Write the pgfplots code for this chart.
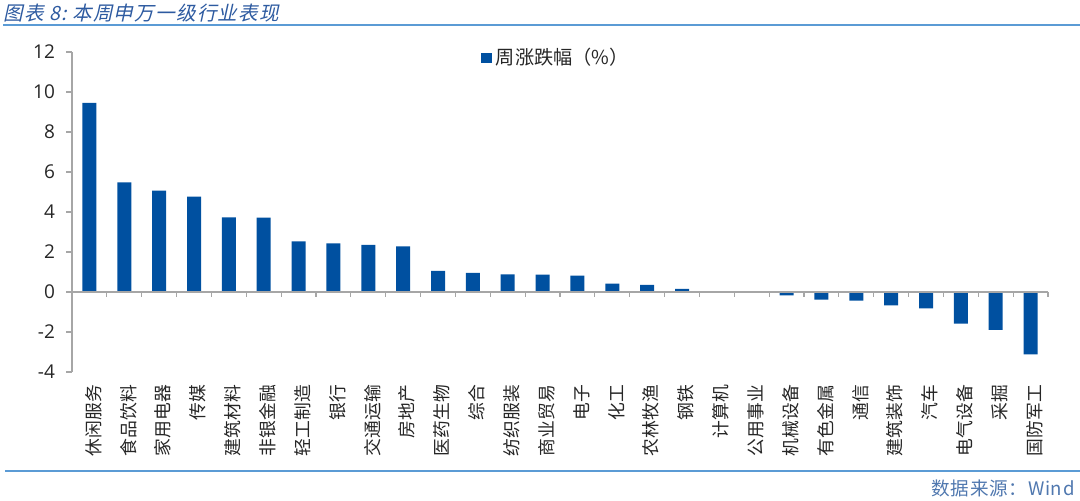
\documentclass[border=0pt]{standalone}
\usepackage{pgfplots}
\pgfplotsset{compat=1.18}
\usepackage{pgfplotstable}
\usepackage{fontspec}
\setmainfont{Open Sans}
\newfontfamily\cjk{Noto Sans CJK SC}
\newfontfamily\cjkslant[FakeSlant=0.22,LetterSpace=6]{Noto Sans CJK SC}
\newfontfamily\cjksrc[LetterSpace=4]{Noto Sans CJK SC}
\definecolor{barblue}{RGB}{0,80,160}
\definecolor{linebl}{RGB}{91,155,213}
\definecolor{titlebl}{RGB}{45,90,160}
\definecolor{srcbl}{RGB}{80,120,175}
\pgfplotstableread{
x y
0 9.45
1 5.48
2 5.07
3 4.77
4 3.73
5 3.72
6 2.53
7 2.43
8 2.35
9 2.28
10 1.05
11 0.95
12 0.88
13 0.87
14 0.82
15 0.42
16 0.35
17 0.15
18 0.03
19 0.01
20 -0.17
21 -0.38
22 -0.43
23 -0.67
24 -0.82
25 -1.58
26 -1.90
27 -3.12
}\datatab
\begin{document}
\begin{tikzpicture}
\path[use as bounding box] (0,0) rectangle (540pt,250.5pt);
\node[anchor=west, inner sep=0pt, text=titlebl, font=\cjkslant\fontsize{9.8}{11}\selectfont] at (1.5pt,244pt) {图表 8:\ 本周申万一级行业表现};
\draw[linebl, line width=1pt] (1.5pt,238pt) -- (540pt,238pt);
\draw[linebl, line width=1pt] (2.5pt,15pt) -- (540pt,15pt);
\node[anchor=east, inner sep=0pt, text=srcbl, font=\cjksrc\fontsize{9.3}{10}\selectfont] at (537.5pt,6.5pt) {数据来源：Wind};
\begin{axis}[
  at={(36pt,64.5pt)}, anchor=south west,
  scale only axis, width=488pt, height=160pt,
  ybar, bar width=7pt,
  xmin=-0.5, xmax=27.5, ymin=-4, ymax=12,
  axis y line*=left, axis x line*=bottom,
  x axis line style={draw=none},
  y axis line style={draw=black!35, line width=0.6pt},
  ytick={-4,-2,...,12},
  xtick={0,...,27},
  xticklabels={休闲服务,食品饮料,家用电器,传媒,建筑材料,非银金融,轻工制造,银行,交通运输,房地产,医药生物,综合,纺织服装,商业贸易,电子,化工,农林牧渔,钢铁,计算机,公用事业,机械设备,有色金属,通信,建筑装饰,汽车,电气设备,采掘,国防军工},
  xtick style={draw=none},
  ytick style={draw=black!35, line width=0.6pt},
  tick align=outside,
  major tick length=3pt,
  xticklabel style={font=\cjk\fontsize{8.9}{9}\selectfont, rotate=90, anchor=east, text=black!85, yshift=-2pt},
  yticklabel style={font=\fontsize{9.5}{11}\selectfont, text=black!85, xshift=-2pt},
  /pgf/number format/assume math mode=true,
  legend style={draw=none, fill=none, at={(0.497,0.981)}, anchor=center, font=\cjk\fontsize{9.6}{10}\selectfont, text=black!85},
  legend image code/.code={\fill[barblue] (0pt,-2.6pt) rectangle (5.2pt,2.6pt);},
  clip=false,
]
\addplot[fill=barblue, draw=none] table[x=x,y=y] {\datatab};
\addlegendentry{周涨跌幅（\%）}
\draw[black!35, line width=0.6pt] (axis cs:-0.5,0) -- (axis cs:27.5,0);
\pgfplotsinvokeforeach{0.5,1.5,...,27.5}{
  \draw[black!35, line width=0.6pt] (axis cs:#1,0) -- ++(0pt,-2.7pt);
}
\end{axis}
\end{tikzpicture}
\end{document}
